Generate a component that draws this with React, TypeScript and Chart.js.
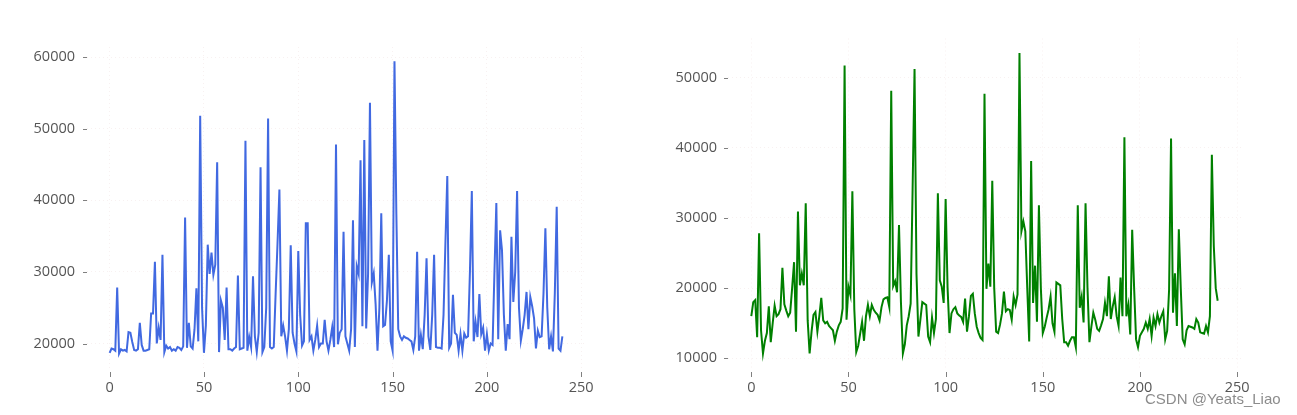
import React, { useEffect, useRef } from "react";
import { Chart, registerables } from "chart.js";

Chart.register(...registerables);

const X_TICKS = [0, 50, 100, 150, 200, 250];
const LEFT_Y_TICKS = [20000, 30000, 40000, 50000, 60000];
const RIGHT_Y_TICKS = [10000, 20000, 30000, 40000, 50000];

const LEFT_VALUES = [
  18700, 19300, 19200, 19000, 27800, 18600, 19200, 19000, 19100, 18900,
  21600, 21500, 20200, 19100, 19000, 19200, 22900, 19800, 19000, 19000,
  19100, 19200, 24200, 24200, 31400, 20000, 22200, 20500, 32400, 18800,
  19700, 19300, 19500, 19000, 19200, 19000, 19500, 19400, 19100, 19600,
  37600, 19400, 22900, 19600, 19300, 22000, 27700, 20300, 51800, 25000,
  18700, 22500, 33800, 29700, 32700, 29600, 31000, 45300, 18800, 26000,
  25000, 20500, 27800, 19200, 19200, 19000, 19300, 19500, 29500, 19200,
  19300, 19400, 48300, 19000, 20900, 19500, 29400, 21000, 18800, 21500,
  44600, 18800, 19500, 25000, 51400, 19500, 19300, 19500, 27000, 34000,
  41500, 21000, 22500, 21000, 19000, 22000, 33700, 21500, 20000, 18900,
  32900, 24000, 19700, 20300, 36800, 36800, 20500, 21000, 19000, 20500,
  22500, 19500, 20000, 20000, 23300, 20300, 19000, 20500, 22300, 19500,
  47800, 19900, 21500, 22000, 35600, 21000, 20000, 19000, 22000, 37200,
  19500, 30800, 29700, 45600, 22400, 48400, 22100, 29700, 53600, 28500,
  29800, 25500, 19000, 25000, 38200, 22400, 22600, 26000, 32400, 20300,
  19000, 59400, 38000, 22000, 21000, 20500, 21000, 20800, 20700, 20500,
  20300, 19100, 21000, 32800, 19000, 21200, 19200, 24000, 31900, 21000,
  19100, 24000, 32400, 19500, 19400, 19400, 19300, 24000, 34000, 43400,
  19400, 20000, 26800, 21500, 21200, 19000, 21300, 19000, 21400, 20800,
  21000, 30000, 41300, 20300, 23000, 20900, 26900, 21300, 22200, 19000,
  21300, 19000, 20000, 19800, 30000, 39600, 20600, 35800, 33000, 24000,
  19000, 22700, 20600, 34900, 25800, 30000, 41300, 25000, 20400, 22000,
  24000, 27200, 22000, 26500, 25200, 23500, 19300, 21800, 20900, 21000,
  27000, 36100, 25000, 19200, 21000, 18900, 27000, 39100, 19300, 19000,
  21000,
];

const RIGHT_VALUES = [
  16000, 18000, 18300, 13000, 27800, 14000, 10700, 12500, 13600, 17400,
  12300, 15000, 17500, 16000, 16300, 17000, 22900, 17700, 16800, 16000,
  16500, 20000, 23700, 13800, 30900, 20400, 22100, 20400, 32100, 15400,
  10700, 13800, 16200, 16600, 13800, 16000, 18600, 15400, 15000, 15200,
  14600, 14300, 14000, 12500, 13800, 14700, 15200, 17100, 51700, 15500,
  20200, 19000, 33800, 17000, 10900, 11800, 13500, 15200, 12500, 16000,
  17600, 16000, 17600, 16900, 16500, 16200, 15400, 17300, 18400, 18600,
  18700, 17300, 48100, 20300, 21000, 19400, 29000, 18000, 10700, 12000,
  14700, 16000, 17800, 34000, 51200, 22000, 13100, 15500, 18000, 17800,
  17600, 13100, 12300, 15800, 13600, 15600, 33500, 21100, 20200, 17900,
  32700, 20000, 13600, 16400, 17000, 17300, 16400, 16100, 15900, 15200,
  18500, 13800, 16000, 18900, 19200, 16400, 14500, 13600, 12900, 12600,
  47700, 19900, 23500, 20200, 35300, 20000, 13800, 13600, 14800, 16400,
  19500, 16700, 17000, 16900, 15500, 18800, 17600, 19100, 53500, 28100,
  29500, 28100, 20000, 12400, 38100, 17900, 23200, 15200, 31800, 20000,
  13600, 14500, 15800, 17000, 18800, 15000, 13800, 20800, 20600, 20400,
  15600, 12300, 12300, 11800, 12500, 13000, 13000, 11600, 31800, 17200,
  18800, 15100, 32100, 20000, 12300, 14500, 16500, 15500, 14200, 13900,
  14700, 15600, 17900, 16000, 21700, 15600, 17400, 18700, 16000, 14600,
  21500, 16000, 41500, 16000, 17600, 13400, 28300, 20000, 12700, 11600,
  13200, 13700, 14200, 15100, 14200, 15600, 13200, 15800, 14600, 16300,
  15100, 16000, 16700, 12700, 13900, 19800, 41300, 16500, 22100, 14600,
  28400, 20000, 12700, 12000, 14000, 14600, 14500, 14400, 14200, 15600,
  15100, 13700, 13600, 13500, 14600, 13700, 16000, 39000, 26000, 20000,
  18200,
];

const LEFT_COLOR = "#4169E1";
const RIGHT_COLOR = "#008000";
const TICK_COLOR = "#555555";
const GRID_COLOR = "rgba(230, 205, 205, 0.28)";
const FONT_FAMILY = "'Open Sans', 'Noto Sans', sans-serif";

const tickMarks = {
  id: "tickMarks",
  afterDraw(chart: any) {
    const { ctx, chartArea, scales } = chart;
    ctx.save();
    ctx.strokeStyle = "#808080";
    ctx.lineWidth = 1;
    ctx.beginPath();
    scales.x.ticks.forEach((t: any) => {
      const px = Math.round(scales.x.getPixelForValue(t.value)) + 0.5;
      ctx.moveTo(px, chartArea.bottom + 3);
      ctx.lineTo(px, chartArea.bottom + 8);
    });
    scales.y.ticks.forEach((t: any) => {
      const py = Math.round(scales.y.getPixelForValue(t.value)) + 0.5;
      ctx.moveTo(chartArea.left - 4, py);
      ctx.lineTo(chartArea.left, py);
    });
    ctx.stroke();
    ctx.restore();
  },
};

type PanelProps = {
  values: number[];
  color: string;
  yTicks: number[];
  yMin: number;
  yMax: number;
  width: number;
  height: number;
  left: number;
  yWidth: number;
  padTop: number;
  padRight: number;
  xHeight: number;
  yPad: number;
};

function Panel(p: PanelProps) {
  const ref = useRef<HTMLCanvasElement | null>(null);
  useEffect(() => {
    if (!ref.current) return;
    const chart = new Chart(ref.current, {
      type: "line",
      data: {
        datasets: [
          {
            data: p.values.map((v, i) => ({ x: i, y: v })),
            borderColor: p.color,
            borderWidth: 2,
            pointRadius: 0,
            tension: 0,
            fill: false,
          },
        ],
      },
      options: {
        animation: false,
        responsive: false,
        maintainAspectRatio: false,
        layout: { padding: { left: 0, top: p.padTop, right: p.padRight, bottom: 0 } },
        plugins: { legend: { display: false }, tooltip: { enabled: false } },
        scales: {
          x: {
            type: "linear",
            min: -12,
            max: 252,
            afterBuildTicks: (scale: any) => {
              scale.ticks = X_TICKS.map((v) => ({ value: v }));
            },
            afterFit: (scale: any) => {
              scale.height = p.xHeight;
            },
            ticks: {
              includeBounds: false,
              color: TICK_COLOR,
              font: { family: FONT_FAMILY, size: 14.5 },
              padding: 10,
              maxRotation: 0,
              callback: (v: any) => String(v),
            },
            grid: { color: GRID_COLOR, drawTicks: false, lineWidth: 1 },
            border: { display: false, dash: [1, 3] },
          },
          y: {
            type: "linear",
            min: p.yMin,
            max: p.yMax,
            afterBuildTicks: (scale: any) => {
              scale.ticks = p.yTicks.map((v) => ({ value: v }));
            },
            afterFit: (scale: any) => {
              scale.width = p.yWidth;
            },
            ticks: {
              includeBounds: false,
              color: TICK_COLOR,
              font: { family: FONT_FAMILY, size: 14.5 },
              padding: p.yPad,
              callback: (v: any) => String(v),
            },
            grid: { color: GRID_COLOR, drawTicks: false, lineWidth: 1 },
            border: { display: false, dash: [1, 3] },
          },
        },
      },
      plugins: [tickMarks],
    } as any);
    return () => chart.destroy();
  }, []);
  return (
    <canvas
      ref={ref}
      width={p.width}
      height={p.height}
      style={{ position: "absolute", left: p.left, top: 0, width: p.width, height: p.height }}
    />
  );
}

export default function App() {
  return (
    <div
      style={{
        position: "fixed",
        left: 0,
        top: 0,
        width: 1297,
        height: 415,
        background: "#ffffff",
        overflow: "hidden",
      }}
    >
      <Panel
        values={LEFT_VALUES}
        color={LEFT_COLOR}
        yTicks={LEFT_Y_TICKS}
        yMin={16440}
        yMax={61400}
        width={640}
        height={415}
        left={0}
        yWidth={87}
        padTop={47}
        padRight={55}
        xHeight={46}
        yPad={12}
      />
      <Panel
        values={RIGHT_VALUES}
        color={RIGHT_COLOR}
        yTicks={RIGHT_Y_TICKS}
        yMin={8480}
        yMax={55560}
        width={657}
        height={415}
        left={640}
        yWidth={88}
        padTop={38.5}
        padRight={56}
        xHeight={46}
        yPad={11}
      />
      <div
        style={{
          position: "absolute",
          left: 1145,
          top: 390,
          fontFamily: "'Liberation Sans', Arial, sans-serif",
          fontSize: 15,
          lineHeight: "18px",
          color: "#8c8c8c",
          whiteSpace: "nowrap",
        }}
      >
        CSDN @Yeats_Liao
      </div>
    </div>
  );
}
